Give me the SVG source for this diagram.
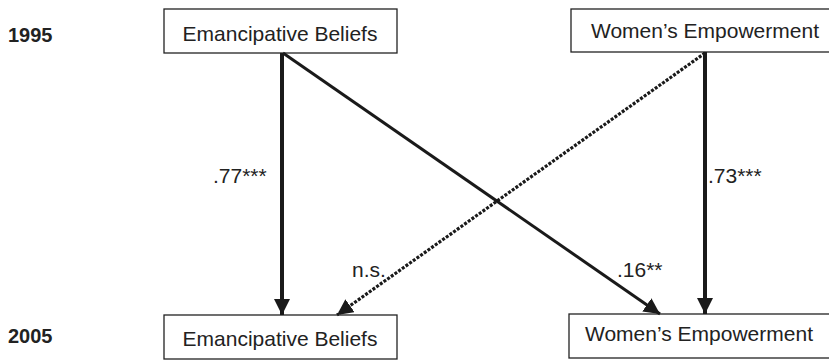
<svg xmlns="http://www.w3.org/2000/svg" width="829" height="361" viewBox="0 0 829 361">
<style>
.box{fill:#fff;stroke:#222;stroke-width:1.3}
.t{font-family:"Liberation Sans",Arial,sans-serif;font-size:21px;fill:#222}
.yr{font-family:"Liberation Sans",Arial,sans-serif;font-size:20px;font-weight:bold;fill:#222}
.ln{fill:none;stroke:#1a1a1a}
</style>
<defs>
<marker id="ah" viewBox="0 0 10 10" refX="10" refY="5" markerWidth="16" markerHeight="16" markerUnits="userSpaceOnUse" orient="auto">
<path d="M0,0 L10,5 L0,10 z" fill="#1a1a1a"/>
</marker>
</defs>
<rect width="829" height="361" fill="#fff"/>
<text class="yr" x="8" y="42">1995</text>
<text class="yr" x="8" y="343">2005</text>
<g id="eb1995"><rect class="box" x="164" y="9" width="233" height="44"/><text class="t" x="280" y="41" text-anchor="middle">Emancipative Beliefs</text></g>
<g id="we1995"><rect class="box" x="571" y="9" width="262" height="43"/><text class="t" x="705" y="38" text-anchor="middle">Women’s Empowerment</text></g>
<g id="eb2005"><rect class="box" x="164" y="315" width="233" height="44"/><text class="t" x="280" y="346" text-anchor="middle">Emancipative Beliefs</text></g>
<g id="we2005"><rect class="box" x="569" y="314" width="264" height="44"/><text class="t" x="699" y="341" text-anchor="middle">Women’s Empowerment</text></g>
<g id="connectors">
<line class="ln" x1="282" y1="53" x2="282" y2="315" stroke-width="4" marker-end="url(#ah)"/>
<line class="ln" x1="705" y1="52" x2="705" y2="314" stroke-width="4" marker-end="url(#ah)"/>
<line class="ln" x1="283" y1="53" x2="660" y2="314" stroke-width="3" marker-end="url(#ah)"/>
<line class="ln" x1="705" y1="53" x2="337" y2="315" stroke-width="3.2" stroke-dasharray="3 1.5" stroke="#333" marker-end="url(#ah)"/>
<text class="t" x="213" y="183">.77***</text>
<text class="t" x="708" y="183">.73***</text>
<text class="t" x="352" y="277">n.s.</text>
<text class="t" x="617" y="277">.16**</text>
</g>
</svg>
